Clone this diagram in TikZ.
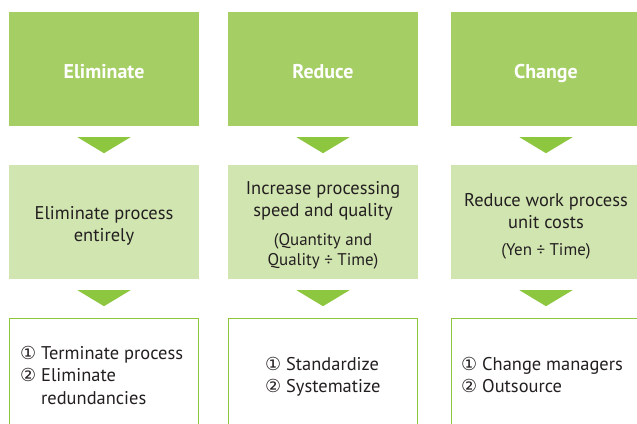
\documentclass[tikz,border=0pt]{standalone}
\usepackage{fontspec}
\setmainfont{PT Sans}
\newfontfamily\circfont{DejaVu Sans}
\usetikzlibrary{positioning,calc}

\definecolor{headgreen}{HTML}{A5CE65}
\definecolor{palegreen}{HTML}{D1E5B0}
\definecolor{markgreen}{HTML}{8DC63F}
\definecolor{inkgrey}{HTML}{231F20}

\begin{document}
\begin{tikzpicture}[x=1bp,y=-1bp,
    headbox/.style={fill=headgreen,minimum width=190bp,minimum height=114bp,inner sep=0pt,
        text=white,text height=18bp,text depth=0pt,font=\fontsize{20}{24}\selectfont\bfseries},
    goalbox/.style={fill=palegreen,minimum width=190bp,minimum height=114bp,inner sep=0pt},
    stepsbox/.style={draw=markgreen,line width=1.3bp,minimum width=189bp,minimum height=130bp,
        inner sep=0pt,anchor=north},
    goaltext/.style={align=center,inner sep=0pt,text=inkgrey,
        font=\fontsize{18.5}{22.5}\selectfont},
    subtext/.style={align=center,inner sep=0pt,text=inkgrey,
        font=\fontsize{17}{20}\selectfont},
    stepstext/.style={align=left,inner sep=0pt,text=inkgrey,anchor=north west,
        font=\fontsize{18.5}{22.5}\selectfont}]

\useasboundingbox (0,0) rectangle (637,423);
\clip (0,0) rectangle (637,423);

\def\colwidth{190}
\def\markdepth{16}

\newcommand\downmark[1]
{
    \fill [markgreen] ($(#1.south)+(-26.5,11)$) -- ++(53,0) -- ++(-26.5,\markdepth) -- cycle;
}

\newcommand\circnum[1]{{\circfont\fontsize{18}{20}\selectfont #1}}

% top row
\node (elim) [headbox] at (104,69) {Eliminate};
\node (redu) [headbox] at (323,69) {Reduce};
\node (chan) [headbox] at (546,69) {Change};

% middle row
\node (elimgoal) [goalbox] at (104,222) {};
\node (redugoal) [goalbox] at (323,222) {};
\node (changoal) [goalbox] at (546,222) {};

\node (elimgoaltxt) [goaltext] at (104,226) {Eliminate process\\entirely};
\node (redugoaltxt) [goaltext] at (323,201) {Increase processing\\speed and quality};
\node (redusubtxt) [subtext] at (323,251) {(Quantity and\\Quality ÷ Time)};
\node (changoaltxt) [goaltext] at (546,211) {Reduce work process\\unit costs};
\node (chansubtxt) [subtext] at (546,251) {(Yen ÷ Time)};

% bottom row
\node (elimsteps) [stepsbox] at (104,318) {};
\node (redusteps) [stepsbox] at (323,318) {};
\node (chansteps) [stepsbox] at (546,318) {};

\node (elimstepstxt) [stepstext] at (20,346)
    {\circnum{①} Terminate process\\\circnum{②} Eliminate\\\phantom{\circnum{②} }redundancies};
\node (redustepstxt) [stepstext] at (265,357)
    {\circnum{①} Standardize\\\circnum{②} Systematize};
\node (chanstepstxt) [stepstext] at (461,357)
    {\circnum{①} Change managers\\\circnum{②} Outsource};

\downmark{elim}
\downmark{redu}
\downmark{chan}
\downmark{elimgoal}
\downmark{redugoal}
\downmark{changoal}

\end{tikzpicture}
\end{document}
